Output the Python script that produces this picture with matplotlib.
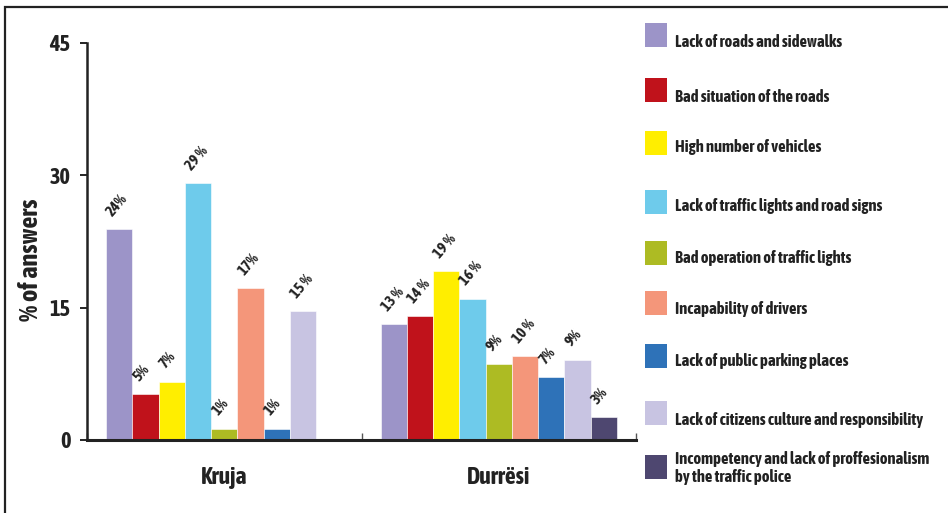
import matplotlib

matplotlib.use("Agg")
import matplotlib.pyplot as plt
from matplotlib.patches import Rectangle
import numpy as np

plt.rcParams["font.family"] = ["Asap Condensed", "DejaVu Sans"]
plt.rcParams["font.weight"] = "bold"

regions = ["Kruja", "Durrësi"]
causes = [
    "Lack of roads and sidewalks",
    "Bad situation of the roads",
    "High number of vehicles",
    "Lack of traffic lights and road signs",
    "Bad operation of traffic lights",
    "Incapability of drivers",
    "Lack of public parking places",
    "Lack of citizens culture and responsibility",
    "Incompetency and lack of proffesionalism\nby the traffic police",
]
kruja = [23.9, 5.2, 6.6, 29.1, 1.3, 17.2, 1.3, 14.6, 0.0]
durresi = [13.1, 14.0, 19.1, 16.0, 8.6, 9.5, 7.1, 9.1, 2.6]
kruja_labels = ["24%", "5%", "7%", "29 %", "1%", "17%", "1%", "15 %", None]
durresi_labels = ["13 %", "14 %", "19 %", "16 %", "9%", "10 %", "7%", "9%", "3%"]
colors = ["#9c94c8", "#c0121b", "#ffee00", "#6ecbeb", "#adbb23",
          "#f4967a", "#2e72b8", "#c8c4e2", "#4e4770"]
yticks = [0, 15, 30, 45]

W, H = 948, 513
fig = plt.figure(figsize=(W / 100, H / 100), dpi=100)
ax = fig.add_axes([87 / W, (H - 440) / H, (636 - 87) / W, (440 - 43) / H])

n = len(causes)
bw = 0.0955
offsets = (np.arange(n) - (n - 1) / 2) * bw
for values, labels, gx in [(kruja, kruja_labels, 0), (durresi, durresi_labels, 1)]:
    for i in range(n):
        x = gx + offsets[i]
        if values[i] > 0:
            ax.bar(x, values[i], width=bw, color=colors[i], edgecolor="white",
                   linewidth=0.4)
        if labels[i]:
            ax.annotate(labels[i], xy=(x - bw / 2, values[i]), xytext=(5, 9),
                        textcoords="offset points", rotation=50,
                        rotation_mode="anchor", ha="left", va="baseline",
                        fontsize=11, fontweight="bold", color="#222222")

ax.set_xlim(-0.5, 1.5)
ax.set_ylim(0, 45)
ax.set_yticks(yticks)
ax.set_yticklabels([str(t) for t in yticks], fontsize=16, fontweight="bold",
                   color="#222222")
ax.set_xticks([-0.5, 0.5, 1.5])
ax.set_xticklabels([])
ax.set_xticks([0, 1], minor=True)
ax.set_xticklabels(regions, minor=True, fontsize=17, fontweight="bold",
                   color="#222222")
ax.tick_params(axis="x", which="minor", length=0, pad=19)
ax.tick_params(axis="x", which="major", direction="in", length=5, width=1,
               color="#555555")
ax.tick_params(axis="y", length=5, width=1.2, pad=7)
for s in ["top", "right"]:
    ax.spines[s].set_visible(False)
ax.spines["left"].set_linewidth(1.8)
ax.spines["bottom"].set_linewidth(2.2)
ax.spines["left"].set_color("#222222")
ax.spines["bottom"].set_color("#222222")
ax.set_ylabel("% of answers", fontsize=19, fontweight="bold", color="#222222")
ax.yaxis.set_label_coords(-0.080, 0.453)

# legend drawn by hand to match the original spacing
patch_tops = [23, 78, 131, 190, 241, 291, 344, 401, 455]
text_y = [42, 97, 147, 206, 258, 309, 361, 420, 468]
for i in range(n):
    fig.patches.append(Rectangle((645 / W, (H - patch_tops[i] - 24) / H), 22 / W, 24 / H,
                                 transform=fig.transFigure, facecolor=colors[i],
                                 edgecolor="none"))
    fig.text(675 / W, (H - text_y[i]) / H, causes[i], ha="left", va="center",
             fontsize=12, fontweight="bold", color="#222222", linespacing=1.15)

# outer frame (cut off at the right and bottom in the original)
fig.patches.append(Rectangle((5 / W, -0.2), 1.2, (H - 7) / H + 0.2,
                             transform=fig.transFigure, fill=False,
                             edgecolor="#222222", linewidth=1.6, clip_on=False))

fig.savefig("out.png", dpi=100)
